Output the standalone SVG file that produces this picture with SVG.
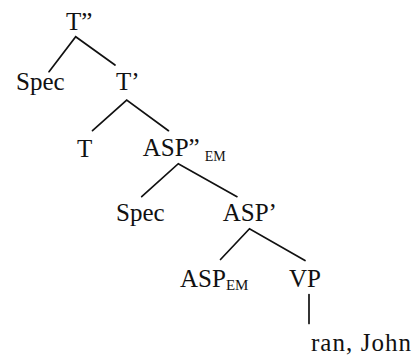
<svg xmlns="http://www.w3.org/2000/svg" width="413" height="356" viewBox="0 0 413 356">
<style>
text{font-family:"Liberation Serif","Times New Roman",serif;font-size:25px;fill:#111}
.sub{font-size:14px}
.e{stroke:#111;stroke-width:1.7;fill:none;stroke-linecap:round}
</style>
<rect width="413" height="356" fill="#fff"/>
<g id="connectors">
<path class="e" d="M49,71.7 L75.7,36.7 L115,65"/>
<path class="e" d="M92.5,130.7 L126.7,100 L168.5,130.7"/>
<path class="e" d="M141.7,196.7 L178.3,163.7 L237,196.7"/>
<path class="e" d="M220.5,259.5 L249.5,228.7 L305,260.5"/>
<path class="e" d="M309,294.5 L309,323.5"/>
</g>
<g id="n-Tpp"><text x="66" y="30">T”</text></g>
<g id="n-Spec1"><text x="16" y="90">Spec</text></g>
<g id="n-Tp"><text x="116" y="90">T’</text></g>
<g id="n-T"><text x="77" y="157">T</text></g>
<g id="n-ASPpp"><text x="142.7" y="156">ASP”<tspan class="sub" dx="5" dy="5">EM</tspan></text></g>
<g id="n-Spec2"><text x="116" y="221">Spec</text></g>
<g id="n-ASPp"><text x="222.7" y="221">ASP’</text></g>
<g id="n-ASP"><text x="180" y="287">ASP<tspan class="sub" dy="3" style="font-size:15px">EM</tspan></text></g>
<g id="n-VP"><text x="289" y="287">VP</text></g>
<g id="n-leaf"><text x="311" y="351" textLength="100" lengthAdjust="spacing">ran, John</text></g>
</svg>
